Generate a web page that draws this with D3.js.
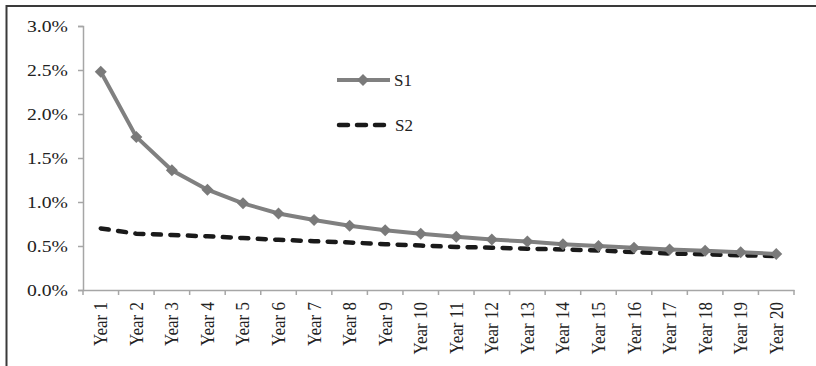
<!DOCTYPE html>
<html><head><meta charset="utf-8">
<script src="https://cdn.jsdelivr.net/npm/d3@7"></script>
<style>
body{margin:0;background:#fff;}
svg text{font-family:"Liberation Serif","Times New Roman",serif;fill:#222;}
</style></head>
<body><svg id="c" width="816" height="366"></svg>
<script>
const categories = ["Year 1","Year 2","Year 3","Year 4","Year 5","Year 6","Year 7","Year 8","Year 9","Year 10","Year 11","Year 12","Year 13","Year 14","Year 15","Year 16","Year 17","Year 18","Year 19","Year 20"];
const s1 = [0.0248,0.0174,0.0136,0.0114,0.00985,0.0087,0.00795,0.0073,0.0068,0.0064,0.00605,0.00575,0.0055,0.0052,0.005,0.0048,0.0046,0.00445,0.0043,0.0041];
const s2 = [0.0070,0.0064,0.00625,0.0061,0.0059,0.0057,0.00555,0.0054,0.0052,0.00505,0.0049,0.0048,0.0047,0.0046,0.0045,0.0043,0.00415,0.00405,0.00395,0.00385];
const yTicks = [0,0.005,0.01,0.015,0.02,0.025,0.03];
const seriesNames = ["S1","S2"];

const svg = d3.select("#c");
svg.append("path").attr("d","M6.5,366 V6 H816").attr("fill","none").attr("stroke","#3a3a3a").attr("stroke-width",2);

const x = d3.scaleBand().domain(categories).range([83,794]);
const y = d3.scaleLinear().domain([0,0.03]).range([290,26]);

const yAxis = svg.append("g").attr("transform","translate(83,0)")
  .call(d3.axisLeft(y).tickValues(yTicks).tickFormat(d3.format(".1%")).tickSize(5).tickPadding(10));
yAxis.select(".domain").attr("stroke","#a6a6a6").attr("stroke-width",1.5);
yAxis.selectAll(".tick line").attr("stroke","#a6a6a6").attr("stroke-width",1.5);
yAxis.selectAll("text").attr("font-size",17).attr("fill","#222").attr("font-family","Liberation Serif")
  .attr("textLength",41).attr("lengthAdjust","spacingAndGlyphs").attr("x",-15).attr("dy","0.33em");

const xAxis = svg.append("g").attr("transform","translate(0,290)")
  .call(d3.axisBottom(x).tickSize(0).tickSizeOuter(0).tickFormat(""));
xAxis.select(".domain").attr("stroke","#a6a6a6").attr("stroke-width",1.5);
const bounds = categories.map(c=>x(c)).concat([x.range()[1]]);
svg.append("g").selectAll("line").data(bounds).join("line")
  .attr("x1",d=>d).attr("x2",d=>d).attr("y1",290).attr("y2",295)
  .attr("stroke","#a6a6a6").attr("stroke-width",1.5);
svg.append("g").selectAll("text").data(categories).join("text")
  .attr("transform",d=>`translate(${x(d)+x.bandwidth()/2+6.5},302) rotate(-90) scale(1,1.1)`)
  .attr("text-anchor","end").attr("font-size",17).text(d=>d);

const cx = d => x(d)+x.bandwidth()/2;
const line = d3.line().x((d,i)=>cx(categories[i])).y(d=>y(d));

svg.append("path").datum(s2).attr("d",line).attr("fill","none")
  .attr("stroke","#1a1a1a").attr("stroke-width",4.5).attr("stroke-dasharray","8,9.5").attr("stroke-linecap","round");

svg.append("path").datum(s1).attr("d",line).attr("fill","none")
  .attr("stroke","#808080").attr("stroke-width",4);
const diamond = d3.symbol().type(d3.symbolSquare).size(72);
svg.append("g").selectAll("path").data(s1).join("path")
  .attr("d",diamond()).attr("fill","#7a7a7a")
  .attr("transform",(d,i)=>`translate(${cx(categories[i])},${y(d)}) rotate(45)`);

const lg = svg.append("g");
lg.append("line").attr("x1",337).attr("x2",390).attr("y1",80).attr("y2",80).attr("stroke","#808080").attr("stroke-width",4);
lg.append("path").attr("d",diamond()).attr("fill","#7a7a7a").attr("transform","translate(363,80) rotate(45)");
lg.append("text").attr("x",394).attr("y",86).attr("font-size",17).text(seriesNames[0]);
lg.append("line").attr("x1",339).attr("x2",390).attr("y1",125).attr("y2",125).attr("stroke","#1a1a1a").attr("stroke-width",4.5).attr("stroke-dasharray","9,9").attr("stroke-linecap","round");
lg.append("text").attr("x",395).attr("y",131).attr("font-size",17).text(seriesNames[1]);
</script></body></html>
